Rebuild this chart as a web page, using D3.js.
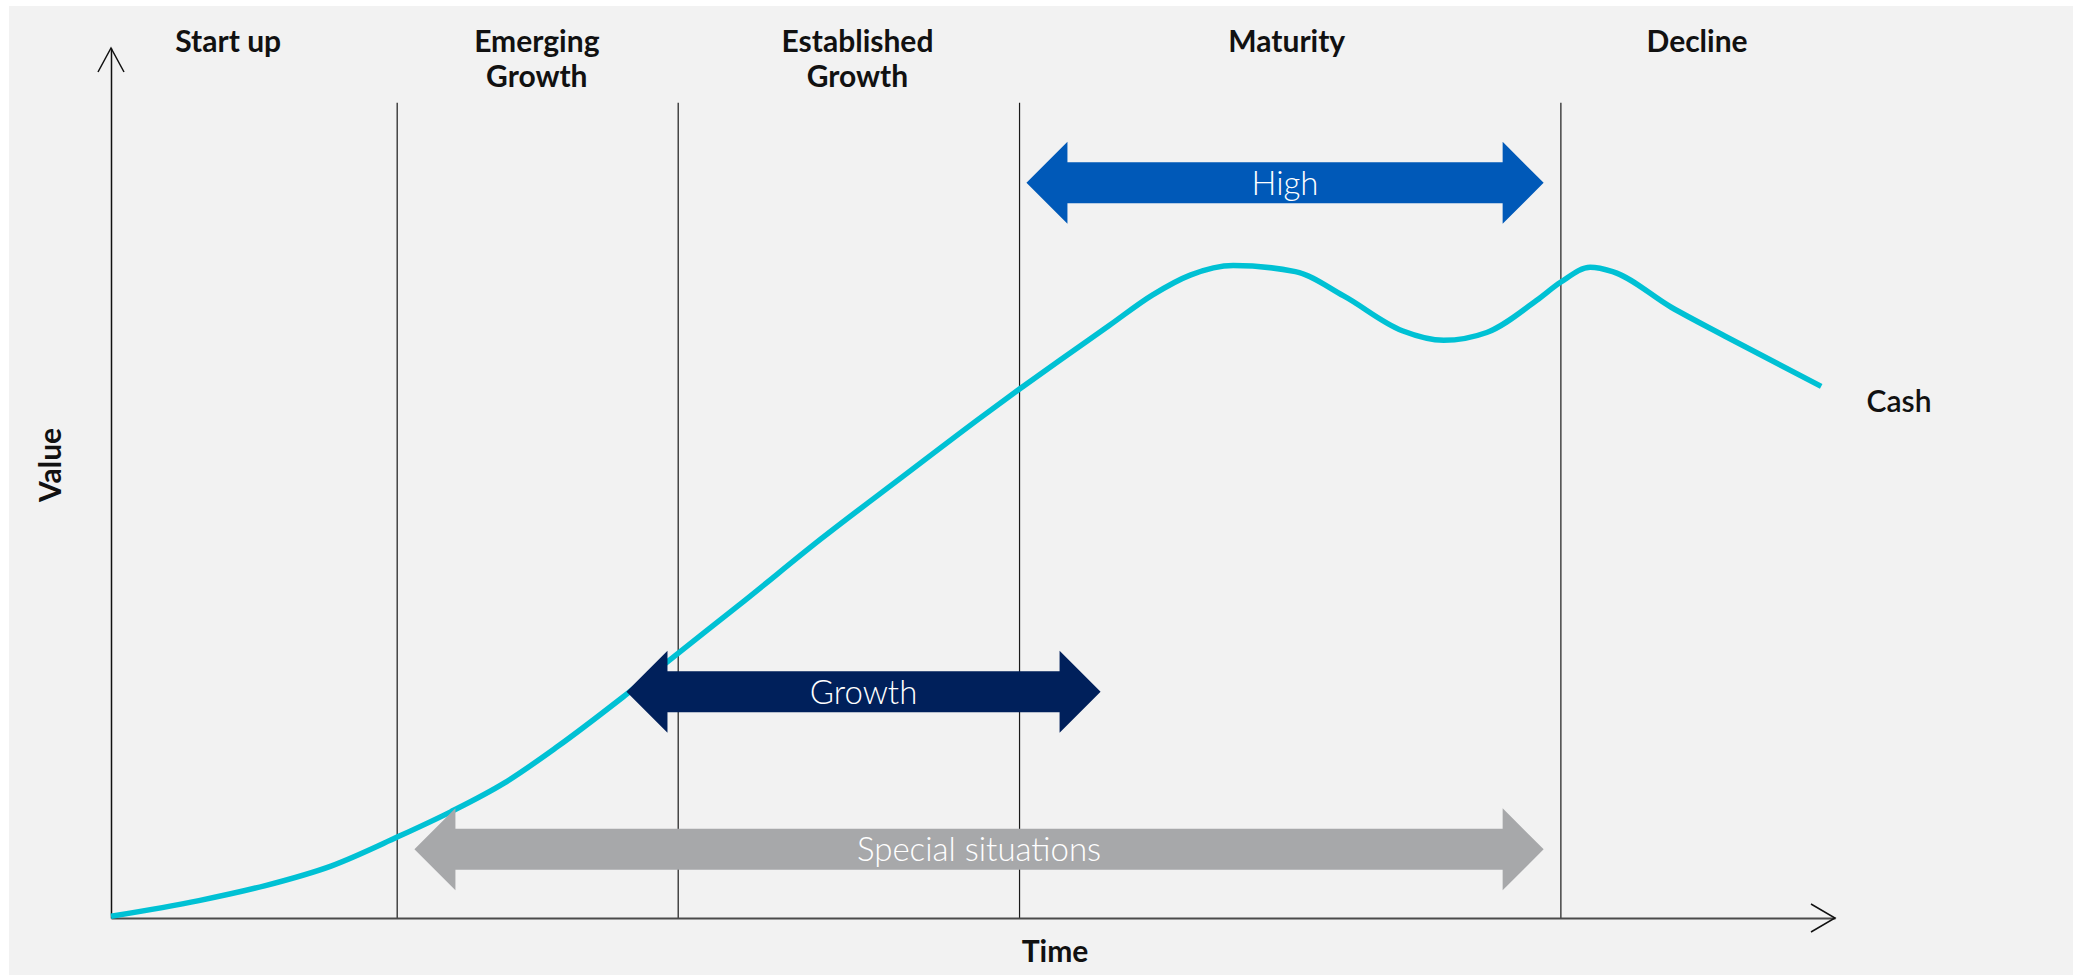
<!DOCTYPE html>
<html>
<head>
<meta charset="utf-8">
<script src="https://cdn.jsdelivr.net/npm/d3@7"></script>
<style>
  body { margin: 0; background: #fff; }
  .phase { font-family: Lato, "Open Sans", sans-serif; font-weight: 700; font-size: 30px; fill: #111; }
  .axis-title { font-family: Lato, "Open Sans", sans-serif; font-weight: 700; font-size: 30px; fill: #111; }
  .band-label { font-family: Lato, Roboto, sans-serif; font-weight: 300; font-size: 33px; fill: #fff; }
</style>
</head>
<body>
<div id="chart"></div>
<script>
// phases of the life cycle (time, 0-100)
const phases = [["Start up"], ["Emerging", "Growth"], ["Established", "Growth"], ["Maturity"], ["Decline"]];
const phaseLabelPos = [6.8, 24.7, 43.3, 68.2, 92.0];
const phaseBounds = [16.6, 32.9, 52.7, 84.1];
const phaseTop = 93.7;

// cash curve (time, value)
const cashTime = [0, 5.1, 8.9, 12.8, 16.6, 19.7, 22.8, 25.9, 29.7, 33.0, 36.7, 41.2, 45.9, 50.5, 52.7, 55.1,
  57.9, 60.4, 62.6, 65.1, 68.7, 71.5, 74.9, 77.3, 79.8, 82.7, 84.1, 85.8, 87.1, 90.5, 93.6, 99.2];
const cashValue = [0.2, 2.0, 3.7, 6.0, 9.3, 12.2, 15.5, 19.7, 25.4, 30.6, 36.4, 43.6, 50.7, 57.6, 60.8, 64.2,
  68.1, 71.6, 73.9, 75.0, 74.3, 71.5, 67.5, 66.4, 67.3, 71.0, 73.1, 74.8, 74.3, 70.2, 66.9, 61.1];

// investment ranges drawn as double arrows
const bandNames = ["High", "Growth", "Special situations"];
const bandStart = [53.1, 29.9, 17.6];
const bandEnd = [83.1, 57.4, 83.1];
const bandLevel = [84.5, 26.0, 7.9];
const bandColors = ["#0059b8", "#00205b", "#a7a8aa"];

const width = 2080;
const height = 975;

const x = d3.scaleLinear().domain([0, 100]).range([111, 1835]);
const y = d3.scaleLinear().domain([0, 100]).range([918, 48]);

const svg = d3.select("#chart")
  .append("svg")
  .attr("width", width)
  .attr("height", height);

svg.append("rect")
  .attr("x", 9).attr("y", 6)
  .attr("width", 2064).attr("height", 969)
  .attr("fill", "#f2f2f2");

// phase separators
svg.selectAll(".sep")
  .data(phaseBounds)
  .enter()
  .append("line")
  .attr("class", "sep")
  .attr("x1", d => x(d)).attr("x2", d => x(d))
  .attr("y1", y(phaseTop)).attr("y2", y(0))
  .attr("stroke", "#1a1a1a")
  .attr("stroke-width", 1.2);

// axes
svg.append("g")
  .attr("transform", "translate(" + x(0) + ",0)")
  .call(d3.axisLeft(y).ticks(0).tickSizeOuter(0))
  .select(".domain")
  .attr("stroke", "#111").attr("stroke-width", 1.5);

svg.append("g")
  .attr("transform", "translate(0," + y(0) + ")")
  .call(d3.axisBottom(x).ticks(0).tickSizeOuter(0))
  .select(".domain")
  .attr("stroke", "#4a4a4a").attr("stroke-width", 2.2);

// arrow heads on axes
svg.append("path")
  .attr("d", "M" + (x(0) - 13) + "," + (y(100) + 24) + "L" + x(0) + "," + y(100) + "L" + (x(0) + 13) + "," + (y(100) + 24))
  .attr("fill", "none").attr("stroke", "#111").attr("stroke-width", 1.5);
svg.append("path")
  .attr("d", "M" + (x(100) - 24) + "," + (y(0) - 14) + "L" + x(100) + "," + y(0) + "L" + (x(100) - 24) + "," + (y(0) + 14))
  .attr("fill", "none").attr("stroke", "#111").attr("stroke-width", 1.5);

// phase headers
const headers = svg.selectAll(".phase")
  .data(phases)
  .enter()
  .append("text")
  .attr("class", "phase")
  .attr("text-anchor", "middle")
  .attr("y", 52);

headers.selectAll("tspan")
  .data((d, i) => d.map(t => ({ t: t, i: i })))
  .enter()
  .append("tspan")
  .attr("x", d => x(phaseLabelPos[d.i]))
  .attr("dy", (d, j) => j === 0 ? 0 : 35)
  .text(d => d.t);

// axis titles
svg.append("text")
  .attr("class", "axis-title")
  .attr("text-anchor", "middle")
  .attr("transform", "translate(61,465) rotate(-90)")
  .text("Value");

svg.append("text")
  .attr("class", "axis-title")
  .attr("text-anchor", "middle")
  .attr("x", 1055).attr("y", 962)
  .text("Time");

// cash line
const cash = cashTime.map((t, i) => ({ t: t, v: cashValue[i] }));
const line = d3.line()
  .x(d => x(d.t))
  .y(d => y(d.v))
  .curve(d3.curveMonotoneX);

svg.append("path")
  .datum(cash)
  .attr("d", line)
  .attr("fill", "none")
  .attr("stroke", "#00c1d4")
  .attr("stroke-width", 5.5)
  .attr("stroke-linejoin", "round");

svg.append("text")
  .attr("x", 1899).attr("y", 412)
  .attr("text-anchor", "middle")
  .style("font-family", "Lato, 'Open Sans', sans-serif")
  .style("font-weight", 600)
  .style("font-size", "30px")
  .attr("fill", "#111")
  .text("Cash");

// double arrows
const shaft = 20.5, head = 41, headLen = 41;
function arrowPath(i) {
  const x0 = x(bandStart[i]), x1 = x(bandEnd[i]), cy = y(bandLevel[i]);
  return "M" + x0 + "," + cy +
    "L" + (x0 + headLen) + "," + (cy - head) +
    "L" + (x0 + headLen) + "," + (cy - shaft) +
    "L" + (x1 - headLen) + "," + (cy - shaft) +
    "L" + (x1 - headLen) + "," + (cy - head) +
    "L" + x1 + "," + cy +
    "L" + (x1 - headLen) + "," + (cy + head) +
    "L" + (x1 - headLen) + "," + (cy + shaft) +
    "L" + (x0 + headLen) + "," + (cy + shaft) +
    "L" + (x0 + headLen) + "," + (cy + head) + "Z";
}

const bands = svg.selectAll(".band")
  .data(bandNames)
  .enter()
  .append("g")
  .attr("class", "band");

bands.append("path")
  .attr("d", (d, i) => arrowPath(i))
  .attr("fill", (d, i) => bandColors[i]);

bands.append("text")
  .attr("class", "band-label")
  .attr("text-anchor", "middle")
  .attr("x", (d, i) => (x(bandStart[i]) + x(bandEnd[i])) / 2)
  .attr("y", (d, i) => y(bandLevel[i]))
  .attr("dy", "0.36em")
  .text(d => d);
</script>
</body>
</html>
